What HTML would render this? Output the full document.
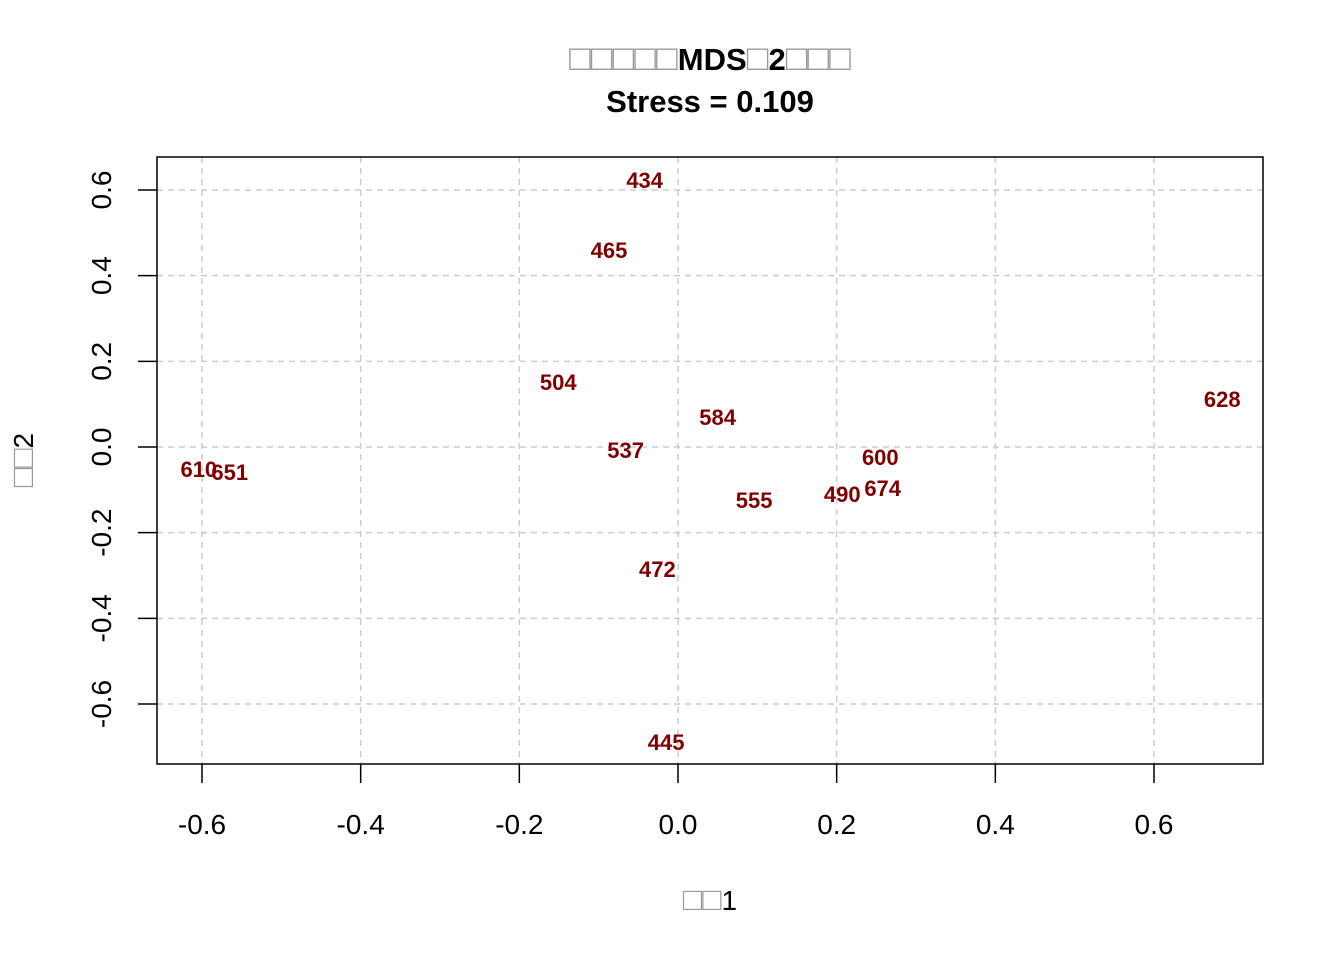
<!DOCTYPE html>
<html><head><meta charset="utf-8"><style>
html,body{margin:0;padding:0;background:#fff}
svg{display:block;font-family:"Liberation Sans",Arial,sans-serif}
</style></head><body>
<svg id="chart" width="1344" height="960" viewBox="0 0 1344 960">
<g text-anchor="middle" font-weight="bold" font-size="31">
<text x="710" y="70"><tspan fill="#999" font-weight="normal" font-size="36">□□□□□</tspan>MDS<tspan fill="#999" font-weight="normal" font-size="36">□</tspan>2<tspan fill="#999" font-weight="normal" font-size="36">□□□</tspan></text>
<text x="710" y="112">Stress = 0.109</text>
</g>
<g id="grid"></g>
<rect x="157" y="157" width="1106" height="607" fill="none" stroke="#000" stroke-width="1.5"/>
<g id="xaxis"></g>
<g id="yaxis"></g>
<g id="points"></g>
<text x="710" y="910" text-anchor="middle" font-size="28"><tspan fill="#999" font-size="32">□□</tspan>1</text>
<text transform="translate(33,460) rotate(-90)" text-anchor="middle" font-size="28"><tspan fill="#999" font-size="32">□□</tspan>2</text>
</svg>
<script>
const labels = ["434","465","504","584","628","537","600","610","651","555","490","674","472","445"];
const dim1 = [-0.042,-0.087,-0.151,0.050,0.686,-0.066,0.255,-0.604,-0.565,0.096,0.207,0.258,-0.026,-0.015];
const dim2 = [0.621,0.458,0.149,0.068,0.110,-0.009,-0.026,-0.054,-0.061,-0.126,-0.112,-0.098,-0.287,-0.691];
const xTicks = [-0.6,-0.4,-0.2,0.0,0.2,0.4,0.6];
const yTicks = [-0.6,-0.4,-0.2,0.0,0.2,0.4,0.6];
const xTickLabels = ["-0.6","-0.4","-0.2","0.0","0.2","0.4","0.6"];
const yTickLabels = ["-0.6","-0.4","-0.2","0.0","0.2","0.4","0.6"];

const NS="http://www.w3.org/2000/svg";
function X(v){return 678 + v*(1154-202)/1.2;}
function Y(v){return 447 - v*(704-190)/1.2;}
function mk(t,a,p){const e=document.createElementNS(NS,t);for(const k in a)e.setAttribute(k,a[k]);p.appendChild(e);return e;}
const grid=document.getElementById('grid'),xa=document.getElementById('xaxis'),ya=document.getElementById('yaxis'),pts=document.getElementById('points');
xTicks.forEach((v,i)=>{
  const g=mk('line',{x1:X(v),x2:X(v),y1:157,y2:764,stroke:'#cccccc','stroke-width':1.5,'stroke-dasharray':'6,5'},grid);
  
  
  const t=mk('line',{x1:X(v),x2:X(v),y1:764,y2:783,stroke:'#000','stroke-width':1.5},xa);
  
  
  const l=mk('text',{x:X(v),y:834,'text-anchor':'middle','font-size':28},xa);
  l.textContent=xTickLabels[i];
  
  
});
yTicks.forEach((v,i)=>{
  const g=mk('line',{x1:157,x2:1263,y1:Y(v),y2:Y(v),stroke:'#cccccc','stroke-width':1.5,'stroke-dasharray':'6,5'},grid);
  
  
  const t=mk('line',{x1:138,x2:157,y1:Y(v),y2:Y(v),stroke:'#000','stroke-width':1.5},ya);
  
  
  const l=mk('text',{transform:`translate(111,${Y(v)}) rotate(-90)`,'text-anchor':'middle','font-size':28},ya);
  l.textContent=yTickLabels[i];
  
  
});
labels.forEach((s,i)=>{
  const t=mk('text',{x:X(dim1[i]),y:Y(dim2[i])+7,'text-anchor':'middle','font-size':22,'font-weight':'bold',fill:'#800000'},pts);
  t.textContent=s;
  
  
});
</script>
</body></html>
